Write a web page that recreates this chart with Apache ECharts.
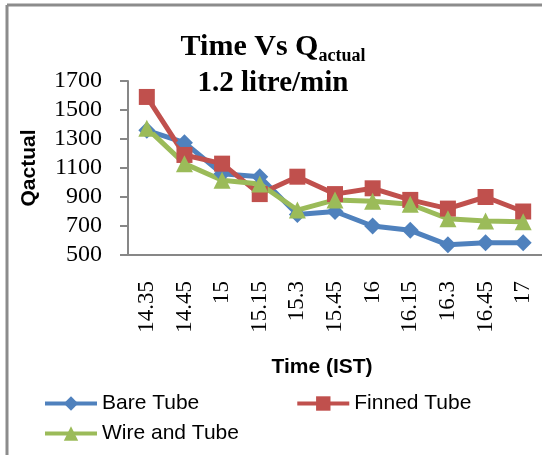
<!DOCTYPE html>
<html><head><meta charset="utf-8">
<script src="https://cdn.jsdelivr.net/npm/echarts@6/dist/echarts.min.js"></script>
<style>html,body{margin:0;padding:0;background:#fff}#c{width:542px;height:455px}</style>
</head><body><div id="c"></div>
<script>
const categories = ['14.35','14.45','15','15.15','15.3','15.45','16','16.15','16.3','16.45','17'];
const bareTube = [1360,1275,1060,1040,780,800,700,670,570,585,585];
const finnedTube = [1590,1190,1130,920,1040,920,960,880,820,900,800];
const wireTube = [1375,1130,1015,990,810,880,870,850,750,735,730];
const yMin = 500, yMax = 1700, yStep = 200;

const chart = echarts.init(document.getElementById('c'));
const serif = 'Liberation Serif';
const sans = 'Liberation Sans';
chart.setOption({
  animation: false,
  backgroundColor: '#fff',
  title: {
    text: '{a|Time Vs Q}{s|actual}\n{c|1.2 litre/min}',
    left: 268, top: 24, textAlign: 'center',
    textStyle: {
      rich: {
        a: {fontFamily: serif, fontWeight: 'bold', fontSize: 30, color: '#000', lineHeight: 36},
        s: {fontFamily: serif, fontWeight: 'bold', fontSize: 18, color: '#000', verticalAlign: 'bottom', lineHeight: 36, padding: [14,0,0,0]},
        c: {fontFamily: serif, fontWeight: 'bold', fontSize: 29, color: '#000', lineHeight: 38}
      }
    }
  },
  graphic: [
    {type: 'line', shape: {x1: 7, y1: 5, x2: 542, y2: 5}, style: {stroke: '#8c8c8c', lineWidth: 3}},
    {type: 'line', shape: {x1: 7, y1: 5, x2: 7, y2: 455}, style: {stroke: '#8c8c8c', lineWidth: 3}}
  ],
  grid: {left: 128, top: 81, height: 174, width: 418, containLabel: false},
  xAxis: {
    type: 'category', data: categories, boundaryGap: true,
    name: 'Time (IST)', nameLocation: 'middle', nameGap: 102,
    nameTextStyle: {fontFamily: sans, fontWeight: 'bold', fontSize: 21, color: '#000', padding: [0, 26, 0, 0]},
    axisLine: {lineStyle: {color: '#878787', width: 2}},
    axisTick: {show: false},
    axisLabel: {rotate: 90, margin: 26, fontFamily: serif, fontSize: 23, color: '#000', interval: 0}
  },
  yAxis: {
    type: 'value', min: yMin, max: yMax, interval: yStep,
    name: 'Qactual', nameLocation: 'middle', nameGap: 88,
    nameTextStyle: {fontFamily: sans, fontWeight: 'bold', fontSize: 21, color: '#000'},
    axisLine: {show: true, lineStyle: {color: '#878787', width: 2}},
    axisTick: {show: true, length: 8, lineStyle: {color: '#878787', width: 2}},
    splitLine: {show: false},
    axisLabel: {margin: 26, fontFamily: serif, fontSize: 24, color: '#000', formatter: v => String(v)}
  },
  legend: [
    {data: ['Bare Tube', 'Finned Tube'], left: 38, top: 388, itemWidth: 52, itemHeight: 18, itemGap: 96,
     lineStyle: {width: 4}, textStyle: {fontFamily: sans, fontSize: 21, color: '#000'}},
    {data: ['Wire and Tube'], left: 38, top: 418, itemWidth: 52, itemHeight: 18,
     lineStyle: {width: 4}, textStyle: {fontFamily: sans, fontSize: 21, color: '#000'}}
  ],
  series: [
    {name: 'Bare Tube', type: 'line', data: bareTube, symbol: 'diamond', symbolSize: 17,
     itemStyle: {color: '#4F81BD'}, lineStyle: {width: 5, color: '#4F81BD'}},
    {name: 'Finned Tube', type: 'line', data: finnedTube, symbol: 'rect', symbolSize: 16,
     itemStyle: {color: '#C0504D'}, lineStyle: {width: 5, color: '#C0504D'}},
    {name: 'Wire and Tube', type: 'line', data: wireTube, symbol: 'triangle', symbolSize: 17,
     itemStyle: {color: '#9BBB59'}, lineStyle: {width: 5, color: '#9BBB59'}}
  ]
});
</script></body></html>
